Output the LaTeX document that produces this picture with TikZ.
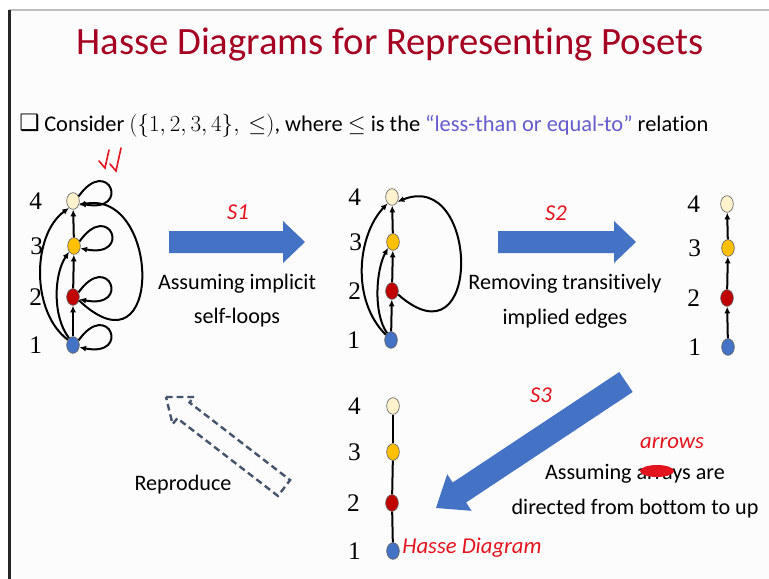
\documentclass[tikz,border=0pt]{standalone}
\usepackage{fontspec}
\setmainfont{Carlito}[Ligatures=NoCommon]
\newfontfamily\numfont{Liberation Serif}
\newfontfamily\symfont{DejaVu Sans}
\usetikzlibrary{arrows.meta,positioning,calc,shapes.geometric}
\definecolor{titlered}{RGB}{165,0,33}
\definecolor{relblue}{RGB}{102,92,204}
\definecolor{arrowblue}{RGB}{68,114,196}
\definecolor{inkred}{RGB}{228,20,30}
\definecolor{dashblue}{RGB}{68,84,106}
\definecolor{cream}{RGB}{255,242,204}
\definecolor{gold}{RGB}{255,192,0}
\definecolor{darkred}{RGB}{192,0,0}
\definecolor{nodeblue}{RGB}{68,114,196}

\begin{document}
\begin{tikzpicture}[x=0.75pt,y=-0.75pt,
    vtx/.style={ellipse,draw=black!60,line width=0.5pt,minimum width=9.5pt,minimum height=12.5pt,inner sep=0pt},
    lbl/.style={font=\numfont\fontsize{19}{19}\selectfont,inner sep=1pt},
    edge/.style={line width=1.5pt,-{Latex[length=5pt,width=4.5pt]}},
    plain/.style={line width=1.5pt},
    txt/.style={font=\fontsize{16.6}{20}\selectfont,inner sep=0pt,anchor=base},
    ink/.style={font=\itshape\fontsize{17}{19}\selectfont,text=inkred,inner sep=0pt}]
  \useasboundingbox (0,0) rectangle (769,579);
  \fill[white] (0,0) rectangle (769,579);
  \fill[black!1] (10,10) rectangle (769,579);
  \draw[black!25,line width=0.8pt] (9,10) -- (769,10);
  \draw[black!85,line width=2pt] (9.5,10) -- (9.5,579);

  \node[anchor=base,inner sep=0pt,text=titlered,font=\fontsize{29}{35}\selectfont] (title) at (390,54) {Hasse Diagrams for Representing Posets};
  \node[anchor=base west,inner sep=0pt,font=\symfont\fontsize{17}{18}\selectfont] (box) at (19,130) {❑};
  \node[anchor=base west,inner sep=0pt,font=\fontsize{16.8}{20}\selectfont] (intro) at (44,131)
    {Consider $(\{1,2,3,4\},\ \leq)$, where $\leq$ is the \textcolor{relblue}{“less-than or equal-to”} relation};

  \node[vtx,fill=nodeblue] (L1) at (73,345) {};
  \node[vtx,fill=darkred] (L2) at (73,297) {};
  \node[vtx,fill=gold] (L3) at (74,246) {};
  \node[vtx,fill=cream] (L4) at (73,201) {};
  \node[lbl,left=17pt of L1] (L1n) {1};
  \node[lbl,left=17pt of L2] (L2n) {2};
  \node[lbl,left=17pt of L3] (L3n) {3};
  \node[lbl,left=17pt of L4] (L4n) {4};
  \draw[edge] (L1) -- (L2);
  \draw[edge] (L2) -- (L3);
  \draw[edge] (L3) -- (L4);
  \draw[edge] (L1.40) .. controls +(30,-42) and +(52,10) .. (L1.-20);
  \draw[edge] (L2.40) .. controls +(30,-42) and +(52,10) .. (L2.-20);
  \draw[edge] (L3.40) .. controls +(30,-42) and +(52,10) .. (L3.-20);
  \draw[edge] (L4.40) .. controls +(30,-42) and +(52,10) .. (L4.-20);
  \draw[edge] (L1.120) .. controls +(-17,-22) and +(-15,22) .. (L3.-130);
  \draw[edge] (L1.135) .. controls +(-37,-28) and +(-37,27) .. (L4.-120);
  \draw[edge] (L2.-30) .. controls +(85,80) and +(82,-17) .. (L4.-35);

  \fill[arrowblue] (169,231) -- (283,231) -- (283,221) -- (305,242) -- (283,263) -- (283,253) -- (169,253) -- cycle;
  \node[ink] (s1) at (238,212) {S1};
  \node[txt] (s1a) at (237,289) {Assuming implicit};
  \node[txt] (s1b) at (237,323) {self-loops};

  \node[vtx,fill=nodeblue] (M1) at (391,340) {};
  \node[vtx,fill=darkred] (M2) at (392,291) {};
  \node[vtx,fill=gold] (M3) at (393,242) {};
  \node[vtx,fill=cream] (M4) at (392,197) {};
  \node[lbl,left=17pt of M1] (M1n) {1};
  \node[lbl,left=17pt of M2] (M2n) {2};
  \node[lbl,left=17pt of M3] (M3n) {3};
  \node[lbl,left=17pt of M4] (M4n) {4};
  \draw[edge] (M1) -- (M2);
  \draw[edge] (M2) -- (M3);
  \draw[edge] (M3) -- (M4);
  \draw[edge] (M1.120) .. controls +(-14,-20) and +(-12,22) .. (M3.-130);
  \draw[edge] (M1.135) .. controls +(-35,-35) and +(-30,32) .. (M4.-125);
  \draw[edge] (M2.-30) .. controls +(85,75) and +(82,-33) .. (M4.-40);

  \fill[arrowblue] (498,231) -- (614,231) -- (614,221) -- (636,242) -- (614,263) -- (614,253) -- (498,253) -- cycle;
  \node[ink] (s2) at (556,213) {S2};
  \node[txt] (s2a) at (565,289) {Removing transitively};
  \node[txt] (s2b) at (565,324) {implied edges};

  \node[vtx,fill=nodeblue] (R1) at (728,347) {};
  \node[vtx,fill=darkred] (R2) at (727,298) {};
  \node[vtx,fill=gold] (R3) at (728,248) {};
  \node[vtx,fill=cream] (R4) at (727,204) {};
  \node[lbl,left=14pt of R1] (R1n) {1};
  \node[lbl,left=14pt of R2] (R2n) {2};
  \node[lbl,left=14pt of R3] (R3n) {3};
  \node[lbl,left=14pt of R4] (R4n) {4};
  \draw[edge] (R1) -- (R2);
  \draw[edge] (R2) -- (R3);
  \draw[edge] (R3) -- (R4);

  \fill[arrowblue] (619.3,372.0) -- (632.7,392.0) -- (466.1,502.5) -- (471.6,510.8) -- (436,508) -- (447.2,474.2) -- (452.7,482.5) -- cycle;
  \node[ink] (s3) at (541,395) {S3};
  \node[txt] (s3a) at (635,479) {Assuming arrays are};
  \node[txt] (s3b) at (635,514) {directed from bottom to up};
  \fill[inkred] (657,471) ellipse [x radius=17, y radius=6];
  \node[ink] (fix) at (672,443) {arrows};

  \node[vtx,fill=nodeblue] (B1) at (393,551) {};
  \node[vtx,fill=darkred] (B2) at (392,503) {};
  \node[vtx,fill=gold] (B3) at (393,452) {};
  \node[vtx,fill=cream] (B4) at (393,406) {};
  \node[lbl,left=18pt of B1] (B1n) {1};
  \node[lbl,left=18pt of B2] (B2n) {2};
  \node[lbl,left=18pt of B3] (B3n) {3};
  \node[lbl,left=18pt of B4] (B4n) {4};
  \draw[plain] (B1) -- (B2);
  \draw[plain] (B2) -- (B3);
  \draw[plain] (B3) -- (B4);
  \node[ink] (hasse) at (472,548) {Hasse Diagram};

  \draw[dashblue,line width=1.8pt,dash pattern=on 5pt off 3pt,line join=miter]
    (166,397) -- (194,397) -- (189.5,402.5) -- (290.1,480.1) -- (277.9,495.9) -- (177.3,418.3) -- (172.6,424.1) -- cycle;
  \node[txt] (rep) at (183,490) {Reproduce};

  \draw[inkred,line width=1.2pt,line cap=round] (109,150) -- (105,168) -- (99,161);
  \draw[inkred,line width=1.2pt,line cap=round] (121,148) -- (116,171) -- (110,164);
\end{tikzpicture}
\end{document}
